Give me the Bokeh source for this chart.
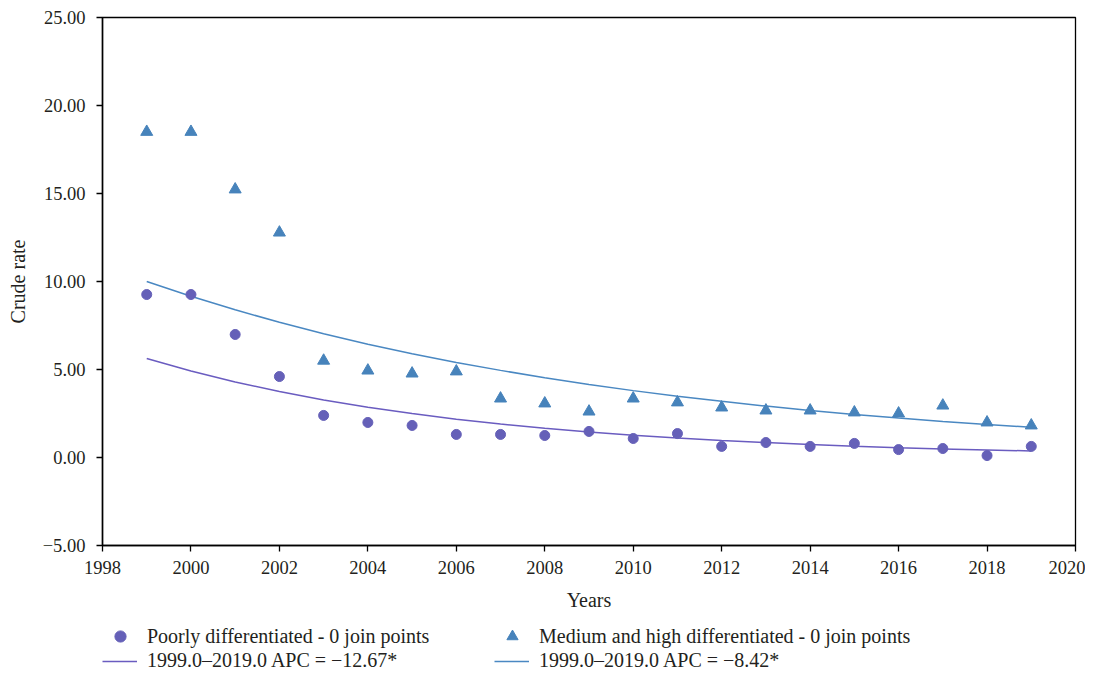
from bokeh.plotting import figure
from bokeh.layouts import column
from bokeh.models import (Legend, LegendItem, Range1d, SingleIntervalTicker,
                          CustomJSTickFormatter)
from bokeh.embed import file_html
from bokeh.resources import INLINE

years = list(range(1999, 2020))
poorly = [9.26, 9.26, 6.99, 4.60, 2.39, 1.99, 1.82, 1.31, 1.31, 1.25, 1.48,
          1.08, 1.36, 0.63, 0.85, 0.63, 0.80, 0.45, 0.51, 0.11, 0.63]
medium = [18.50, 18.50, 15.23, 12.78, 5.50, 4.94, 4.77, 4.89, 3.35, 3.07, 2.61,
          3.35, 3.13, 2.84, 2.67, 2.67, 2.56, 2.50, 2.95, 1.99, 1.82]
poorly_fit = [5.63, 4.92, 4.29, 3.75, 3.27, 2.86, 2.50, 2.18, 1.90, 1.66, 1.45,
              1.27, 1.11, 0.97, 0.85, 0.74, 0.64, 0.56, 0.49, 0.43, 0.37]
medium_fit = [10.00, 9.16, 8.39, 7.68, 7.03, 6.44, 5.90, 5.40, 4.95, 4.53, 4.15,
              3.80, 3.48, 3.19, 2.92, 2.67, 2.45, 2.24, 2.05, 1.88, 1.72]

label_poorly = "Poorly differentiated - 0 join points"
label_medium = "Medium and high differentiated - 0 join points"
label_fit_p = "1999.0\u20132019.0 APC = \u221212.67*"
label_fit_m = "1999.0\u20132019.0 APC = \u22128.42*"

FONT = "Liberation Serif"
TXT = "#231f20"
PURPLE = "#6560b8"
BLUE = "#4783bb"
PURPLE_LINE = "#6a5cc0"
BLUE_LINE = "#4a88c2"

W = 1085
H_MAIN = 620
H_LEG = 52

p = figure(width=W, height=H_MAIN, output_backend="svg", toolbar_location=None,
           x_range=Range1d(1998, 2020), y_range=Range1d(-5, 25),
           min_border_left=102, min_border_right=10, min_border_top=17,
           min_border_bottom=75)
p.grid.visible = False
p.outline_line_color = "black"
p.outline_line_width = 1.3

p.line(years, poorly_fit, line_color=PURPLE_LINE, line_width=1.5)
p.line(years, medium_fit, line_color=BLUE_LINE, line_width=1.5)
p.scatter(years, poorly, marker="circle", size=10, fill_color=PURPLE,
          line_color=PURPLE)
p.scatter(years, medium, marker="triangle", size=12, fill_color=BLUE,
          line_color=BLUE)

p.xaxis.ticker = SingleIntervalTicker(interval=2)
p.yaxis.ticker = SingleIntervalTicker(interval=5)
p.yaxis.formatter = CustomJSTickFormatter(
    code="return tick.toFixed(2).replace('-', '\u2212');")
p.xaxis.axis_label = "Years"
p.yaxis.axis_label = "Crude rate"
for ax in (p.xaxis, p.yaxis):
    ax.axis_line_width = 1.5
    ax.axis_line_color = "black"
    ax.major_tick_line_color = "black"
    ax.major_tick_line_width = 1.3
    ax.major_tick_out = 6
    ax.major_tick_in = 0
    ax.minor_tick_line_color = None
    ax.major_label_text_font = FONT
    ax.major_label_text_font_size = "18.5px"
    ax.major_label_text_color = TXT
    ax.axis_label_text_font = FONT
    ax.axis_label_text_font_size = "20px"
    ax.axis_label_text_font_style = "normal"
    ax.axis_label_text_color = TXT
p.xaxis.major_label_standoff = 9
p.xaxis.axis_label_standoff = 12
p.yaxis.major_label_standoff = 11
p.yaxis.axis_label_standoff = 11

# legend strip below the chart (its glyphs reuse the series, out of view)
q = figure(width=W, height=H_LEG, output_backend="svg", toolbar_location=None,
           x_range=Range1d(0, 1), y_range=Range1d(0, 1),
           x_axis_type=None, y_axis_type=None, min_border=0)
q.grid.visible = False
q.outline_line_color = None
lp = q.scatter(years, poorly, marker="circle", size=10, fill_color=PURPLE,
               line_color=PURPLE)
lm = q.scatter(years, medium, marker="triangle", size=12, fill_color=BLUE,
               line_color=BLUE)
lfp = q.line(years, poorly_fit, line_color=PURPLE_LINE, line_width=1.5)
lfm = q.line(years, medium_fit, line_color=BLUE_LINE, line_width=1.5)

common = dict(orientation="horizontal", spacing=0, padding=0, margin=0,
              label_text_font=FONT, label_text_font_size="20px",
              label_text_color=TXT, border_line_color=None,
              background_fill_alpha=0)
leg1 = Legend(items=[LegendItem(label=label_poorly, renderers=[lp]),
                     LegendItem(label=label_medium, renderers=[lm])],
              location=(4, 22), glyph_width=28, glyph_height=28,
              label_height=20, label_standoff=13, label_width=351, **common)
leg2 = Legend(items=[LegendItem(label=label_fit_p, renderers=[lfp]),
                     LegendItem(label=label_fit_m, renderers=[lfm])],
              location=(0, 0), glyph_width=35, glyph_height=20,
              label_height=20, label_standoff=10, label_width=347, **common)
q.add_layout(leg1, "center")
q.add_layout(leg2, "center")

layout = column(p, q, spacing=0)
open("out.html", "w").write(file_html(layout, INLINE))
